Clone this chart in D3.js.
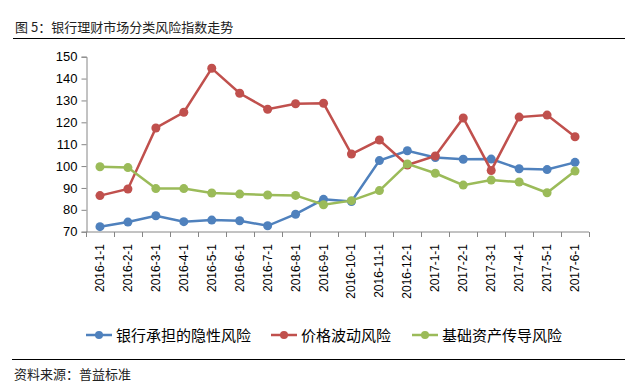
<!DOCTYPE html>
<html>
  <head>
    <meta charset="UTF-8" />
    <style>
      body {
        margin: 0;
        background: #fff;
      }
      text {
        font-family: "Liberation Sans", Arial, "Noto Sans CJK SC", sans-serif;
      }
      .cjk {
        font-family: "Noto Sans CJK SC", sans-serif;
      }
    </style>
  </head>
  <body>
    <svg></svg>
    <script src="https://d3js.org/d3.v7.min.js"></script>
    <script>
      let width = 637,
        height = 385;

      // chart data
      let months = [
        "2016-1-1", "2016-2-1", "2016-3-1", "2016-4-1", "2016-5-1", "2016-6-1",
        "2016-7-1", "2016-8-1", "2016-9-1", "2016-10-1", "2016-11-1", "2016-12-1",
        "2017-1-1", "2017-2-1", "2017-3-1", "2017-4-1", "2017-5-1", "2017-6-1",
      ];
      let bankRisk = [72.3, 74.4, 77.3, 74.6, 75.3, 75.0, 72.7, 78.0, 84.8, 83.8, 102.5, 107.0, 103.9, 103.1, 103.2, 98.8, 98.4, 101.7];
      let priceRisk = [86.5, 89.5, 117.4, 124.6, 144.7, 133.3, 126.0, 128.5, 128.7, 105.5, 111.9, 100.5, 104.6, 122.0, 98.0, 122.4, 123.3, 113.4];
      let assetRisk = [99.7, 99.3, 89.7, 89.7, 87.7, 87.2, 86.8, 86.6, 82.3, 84.2, 88.8, 101.0, 96.7, 91.3, 93.6, 92.7, 87.8, 97.7];
      let yTicks = [70, 80, 90, 100, 110, 120, 130, 140, 150];

      let series = [
        { name: "银行承担的隐性风险", values: bankRisk, color: "#4f81bd" },
        { name: "价格波动风险", values: priceRisk, color: "#c0504d" },
        { name: "基础资产传导风险", values: assetRisk, color: "#9bbb59" },
      ];

      let svg = d3.select("svg").attr("width", width).attr("height", height);

      // title and rules
      svg
        .append("text")
        .attr("class", "cjk")
        .attr("x", 15)
        .attr("y", 32)
        .attr("font-size", 13)
        .attr("fill", "#222")
        .text("图 5：银行理财市场分类风险指数走势");
      svg.append("line").attr("x1", 13).attr("x2", 625).attr("y1", 38.5).attr("y2", 38.5).attr("stroke", "#000").attr("stroke-width", 1.2);
      svg.append("line").attr("x1", 12).attr("x2", 625).attr("y1", 359.5).attr("y2", 359.5).attr("stroke", "#000").attr("stroke-width", 1.2);
      svg
        .append("text")
        .attr("class", "cjk")
        .attr("x", 14)
        .attr("y", 379)
        .attr("font-size", 13)
        .attr("fill", "#222")
        .text("资料来源：普益标准");

      let x = d3.scaleBand().domain(months).range([86, 589]);
      let y = d3.scaleLinear().domain([70, 150]).range([231.7, 56.7]);

      // y axis
      let yAxis = svg
        .append("g")
        .attr("transform", "translate(86.5,0)")
        .call(d3.axisLeft(y).tickValues(yTicks).tickSize(5).tickPadding(4));
      yAxis.select(".domain").attr("stroke", "#868686");
      yAxis.selectAll(".tick line").attr("stroke", "#868686");
      yAxis.selectAll(".tick text").attr("font-size", 13).attr("fill", "#000");

      // x axis: ticks between categories
      let xg = svg.append("g").attr("transform", "translate(0,232)");
      xg.append("line").attr("x1", 86).attr("x2", 589).attr("stroke", "#868686");
      xg.selectAll(".xt")
        .data(d3.range(months.length + 1))
        .enter()
        .append("line")
        .attr("x1", (i) => Math.round(86 + i * x.step()) + 0.5)
        .attr("x2", (i) => Math.round(86 + i * x.step()) + 0.5)
        .attr("y1", 0)
        .attr("y2", 5)
        .attr("stroke", "#868686");
      xg.selectAll(".xl")
        .data(months)
        .enter()
        .append("text")
        .attr("transform", (d) => "translate(" + (x(d) + x.bandwidth() / 2 + 4) + ",12) rotate(-90)")
        .attr("text-anchor", "end")
        .attr("font-size", 12)
        .attr("fill", "#000")
        .text((d) => d);

      let line = d3
        .line()
        .x((d, i) => x(months[i]) + x.bandwidth() / 2)
        .y((d) => y(d));

      series.forEach((s) => {
        let g = svg.append("g");
        g.append("path")
          .attr("d", line(s.values))
          .attr("fill", "none")
          .attr("stroke", s.color)
          .attr("stroke-width", 2.5);
        g.selectAll("circle")
          .data(s.values)
          .enter()
          .append("circle")
          .attr("cx", (d, i) => x(months[i]) + x.bandwidth() / 2)
          .attr("cy", (d) => y(d))
          .attr("r", 4.5)
          .attr("fill", s.color);
      });

      // legend
      let legendX = [86, 271, 412];
      series.forEach((s, i) => {
        let lg = svg.append("g").attr("transform", "translate(" + legendX[i] + ",335)");
        lg.append("line").attr("x1", 0).attr("x2", 26).attr("stroke", s.color).attr("stroke-width", 2.5);
        lg.append("circle").attr("cx", 13).attr("r", 4).attr("fill", s.color);
        lg.append("text")
          .attr("class", "cjk")
          .attr("x", 30)
          .attr("y", 5.5)
          .attr("font-size", 15)
          .attr("fill", "#000")
          .text(s.name);
      });
    </script>
  </body>
</html>
